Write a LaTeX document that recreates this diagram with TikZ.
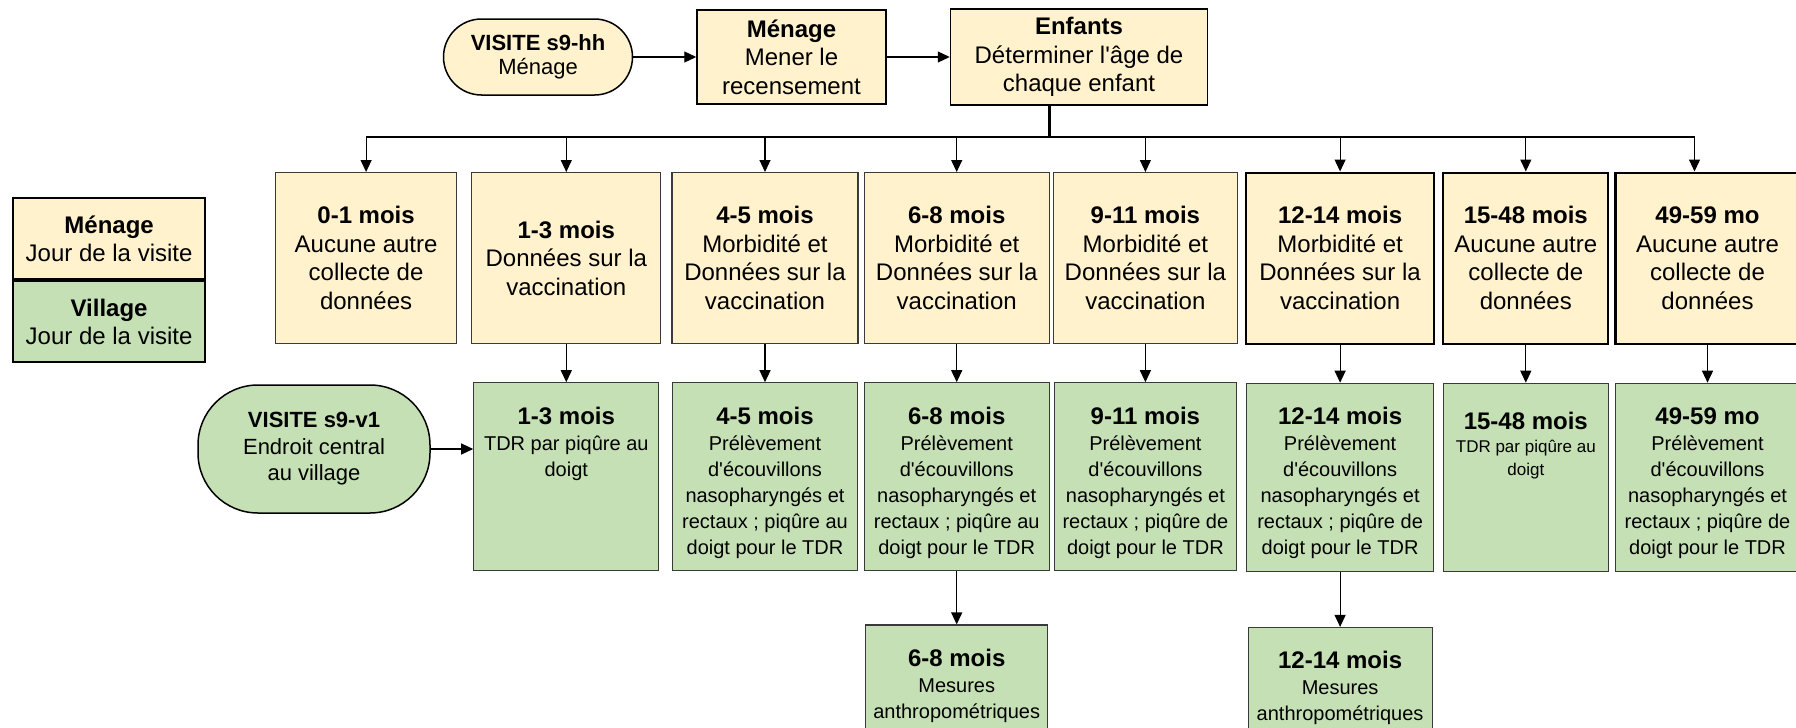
\documentclass[tikz,border=0pt]{standalone}
\usepackage{fontspec}
\setmainfont{Liberation Sans}
\usetikzlibrary{arrows.meta, positioning}
\definecolor{HhCream}{HTML}{FFF2CC}
\definecolor{VilGreen}{HTML}{C5E0B4}
\definecolor{EdgeGrey}{HTML}{3A3A3A}
\newcommand{\hd}[1]{{\fontsize{24}{29}\selectfont\bfseries #1\par}}

\begin{document}
\begin{tikzpicture}[x=1pt, y=-1pt,
    every node/.style={font=\fontsize{24}{28.5}\selectfont},
    arr/.style={-{Triangle[length=12pt, width=11pt]}, line width=1.2pt},
    pill/.style={draw, line width=1.5pt, rounded corners=#1, align=center},
    stepbox/.style={draw, line width=1.5pt, fill=HhCream, minimum height=94pt, align=center},
    legbox/.style={draw, line width=2.2pt, minimum width=192pt, minimum height=81pt, align=center},
    agebox/.style={draw=EdgeGrey, line width=1.2pt, fill=HhCream, minimum height=171pt, minimum width=#1, align=center},
    agebox/.default=185pt,
    vilbox/.style 2 args={draw=EdgeGrey, line width=1.2pt, fill=VilGreen, inner sep=0pt,
      font=\fontsize{20}{26}\selectfont,
      execute at begin node={\begin{minipage}[c][#2][t]{#1}\centering\vspace*{24pt}},
      execute at end node={\end{minipage}}}]
  \useasboundingbox (0,0) rectangle (1796,728);
  \clip (0,0) rectangle (1796,728);

  \node[legbox, fill=HhCream, anchor=north west] (leg1) at (12,197) {\textbf{Ménage}\\Jour de la visite};
  \node[legbox, fill=VilGreen, below=0pt of leg1] (leg2) {\textbf{Village}\\Jour de la visite};

  \node[pill=38pt, fill=HhCream, minimum width=189pt, minimum height=76pt, font=\fontsize{22}{24.5}\selectfont] (hh) at (538,57) {\textbf{VISITE s9-hh}\\Ménage};
  \node[stepbox, minimum width=189pt, right=63pt of hh] (men) {\textbf{Ménage}\\Mener le\\recensement};
  \node[stepbox, minimum width=257pt, minimum height=96pt, right=63pt of men] (enf) {\textbf{Enfants}\\Déterminer l\textquotesingle âge de\\chaque enfant};
  \draw[arr] (hh) -- (men);
  \draw[arr] (men) -- (enf);

  \node[agebox=181pt, anchor=north west] (a01) at (275,172) {\textbf{0-1 mois}\\Aucune autre\\collecte de\\données};
  \node[agebox=189pt, right=14pt of a01] (a13) {\textbf{1-3 mois}\\Données sur la\\vaccination};
  \node[agebox=186pt, right=10pt of a13] (a45) {\textbf{4-5 mois}\\Morbidité et\\Données sur la\\vaccination};
  \node[agebox=185pt, right=5pt of a45] (a68) {\textbf{6-8 mois}\\Morbidité et\\Données sur la\\vaccination};
  \node[agebox=184pt, right=3pt of a68] (a911) {\textbf{9-11 mois}\\Morbidité et\\Données sur la\\vaccination};
  \node[agebox=188pt, draw=black, line width=2.2pt, right=7pt of a911] (a1214) {\textbf{12-14 mois}\\Morbidité et\\Données sur la\\vaccination};
  \node[agebox=165pt, draw=black, line width=2.2pt, right=7pt of a1214] (a1548) {\textbf{15-48 mois}\\Aucune autre\\collecte de\\données};
  \node[agebox=184pt, draw=black, line width=2.2pt, right=5pt of a1548] (a4959) {\textbf{49-59 mo}\\Aucune autre\\collecte de\\données};

  \coordinate (bus) at (0,137);
  \draw[line width=3pt] ([xshift=-30pt]enf.south) -- ([xshift=-30pt]enf.south |- bus);
  \draw[line width=1.4pt] (a01.north |- bus) -- (a45.north |- bus);
  \draw[line width=2.4pt] (a45.north |- bus) -- ([xshift=-13pt]a4959.north |- bus);
  \draw[arr] (a01.north |- bus) -- (a01.north);
  \draw[arr] (a13.north |- bus) -- (a13.north);
  \draw[arr] (a45.north |- bus) -- (a45.north);
  \draw[arr] (a68.north |- bus) -- (a68.north);
  \draw[arr] (a911.north |- bus) -- (a911.north);
  \draw[arr] (a1214.north |- bus) -- (a1214.north);
  \draw[arr] (a1548.north |- bus) -- (a1548.north);
  \draw[arr] ([xshift=-13pt]a4959.north |- bus) -- ([xshift=-13pt]a4959.north);

  \node[vilbox={185pt}{188pt}, below=38pt of a13] (v13) {\hd{1-3 mois}TDR par piqûre au\\doigt};
  \node[vilbox={185pt}{188pt}, below=38pt of a45] (v45) {\hd{4-5 mois}Prélèvement\\d\textquotesingle écouvillons\\nasopharyngés et\\rectaux ; piqûre au\\doigt pour le TDR};
  \node[vilbox={185pt}{188pt}, below=38pt of a68] (v68) {\hd{6-8 mois}Prélèvement\\d\textquotesingle écouvillons\\nasopharyngés et\\rectaux ; piqûre au\\doigt pour le TDR};
  \node[vilbox={182pt}{188pt}, below=38pt of a911] (v911) {\hd{9-11 mois}Prélèvement\\d\textquotesingle écouvillons\\nasopharyngés et\\rectaux ; piqûre de\\doigt pour le TDR};
  \node[vilbox={187pt}{188pt}, below=38pt of a1214] (v1214) {\hd{12-14 mois}Prélèvement\\d\textquotesingle écouvillons\\nasopharyngés et\\rectaux ; piqûre de\\doigt pour le TDR};
  \node[vilbox={165pt}{188pt}, below=38pt of a1548] (v1548) {\vspace{5pt}\hd{15-48 mois}{\fontsize{17}{23}\selectfont TDR par piqûre au\\doigt\par}};
  \node[vilbox={184pt}{188pt}, below=38pt of a4959] (v4959) {\hd{49-59 mo}Prélèvement\\d\textquotesingle écouvillons\\nasopharyngés et\\rectaux ; piqûre de\\doigt pour le TDR};
  \draw[arr] (a13) -- (v13);
  \draw[arr] (a45) -- (v45);
  \draw[arr] (a68) -- (v68);
  \draw[arr] (a911) -- (v911);
  \draw[arr] (a1214) -- (v1214);
  \draw[arr] (a1548) -- (v1548);
  \draw[arr] (a4959) -- (v4959);

  \node[pill=60pt, fill=VilGreen, minimum width=232pt, minimum height=128pt, font=\fontsize{22}{26.5}\selectfont] (pv1) at (314,449) {\textbf{VISITE s9-v1}\\Endroit central\\au village};
  \draw[arr] (pv1) -- (pv1 -| v13.west);

  \node[vilbox={182pt}{130pt}, below=53pt of v68] (b68) {\hd{6-8 mois}Mesures\\anthropométriques};
  \node[vilbox={184pt}{130pt}, below=55pt of v1214] (b1214) {\hd{12-14 mois}Mesures\\anthropométriques};
  \draw[arr] (v68) -- (b68);
  \draw[arr] (v1214) -- (b1214);
\end{tikzpicture}
\end{document}
